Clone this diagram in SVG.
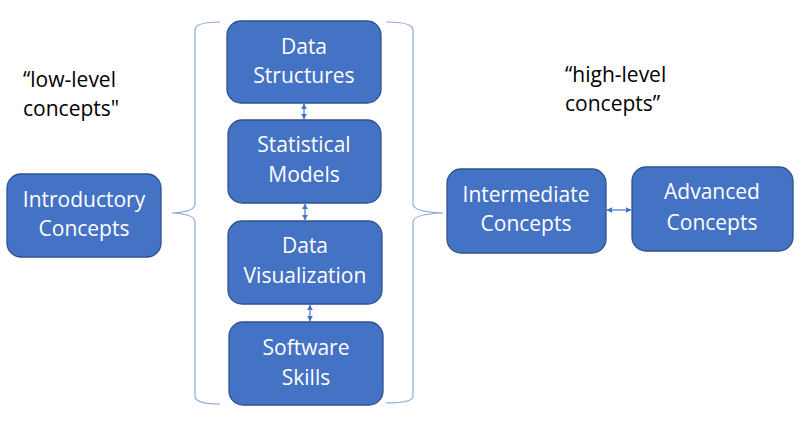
<svg xmlns="http://www.w3.org/2000/svg" width="799" height="427" viewBox="0 0 799 427">
<defs>
<style>
.node rect{fill:#4472c4;stroke:#2f528f;stroke-width:1.3}
.node text{fill:#fff;font-family:"Open Sans","Liberation Sans",Arial,sans-serif;font-size:21px;text-anchor:middle}
.label{fill:#000;font-family:"Open Sans","Liberation Sans",Arial,sans-serif;font-size:21px}
.brace{fill:none;stroke:#8eaadb;stroke-width:1.2}
.conn{stroke:#4472c4;stroke-width:1.2;fill:none;marker-start:url(#ah);marker-end:url(#ah)}
</style>
<marker id="ah" viewBox="0 0 10 10" refX="9" refY="5" markerWidth="6" markerHeight="6" orient="auto-start-reverse" markerUnits="userSpaceOnUse">
<path d="M0,0 L10,5 L0,10 Z" fill="#4472c4"/>
</marker>
</defs>
<rect width="799" height="427" fill="#fff"/>

<g id="braces">
<path class="brace" d="M220,22 Q195,22 195,30 L195,204 Q195,212 172,213 Q195,214 195,222 L195,396 Q195,404 220,404"/>
<path class="brace" d="M386,22 Q413,22 413,30 L413,204 Q413,212 443,213 Q413,214 413,222 L413,396 Q413,403 386,403"/>
</g>

<text class="label" x="23" y="87">“low-level</text>
<text class="label" x="23" y="116">concepts"</text>
<text class="label" x="565" y="82">“high-level</text>
<text class="label" x="565" y="111">concepts”</text>

<g id="connectors">
<line class="conn" x1="304" y1="104" x2="304" y2="119"/>
<line class="conn" x1="305" y1="204" x2="305" y2="220"/>
<line class="conn" x1="310" y1="305" x2="310" y2="321"/>
<line class="conn" x1="607" y1="210" x2="631" y2="210"/>
</g>

<g id="data-structures" class="node">
<rect x="227" y="21" width="154" height="82" rx="14"/>
<text x="304" y="54">Data</text>
<text x="304" y="83">Structures</text>
</g>
<g id="statistical-models" class="node">
<rect x="228" y="120" width="153" height="83" rx="14"/>
<text x="304" y="152">Statistical</text>
<text x="304" y="182">Models</text>
</g>
<g id="data-visualization" class="node">
<rect x="228" y="221" width="154" height="83" rx="14"/>
<text x="305" y="253">Data</text>
<text x="305" y="283">Visualization</text>
</g>
<g id="software-skills" class="node">
<rect x="229" y="322" width="154" height="83" rx="14"/>
<text x="306" y="355">Software</text>
<text x="306" y="385">Skills</text>
</g>
<g id="introductory" class="node">
<rect x="7" y="174" width="154" height="83" rx="14"/>
<text x="84" y="207">Introductory</text>
<text x="84" y="236">Concepts</text>
</g>
<g id="intermediate" class="node">
<rect x="447" y="169" width="159" height="84" rx="14"/>
<text x="526" y="202">Intermediate</text>
<text x="526" y="231">Concepts</text>
</g>
<g id="advanced" class="node">
<rect x="632" y="167" width="161" height="84" rx="14"/>
<text x="712" y="199">Advanced</text>
<text x="712" y="230">Concepts</text>
</g>
</svg>
